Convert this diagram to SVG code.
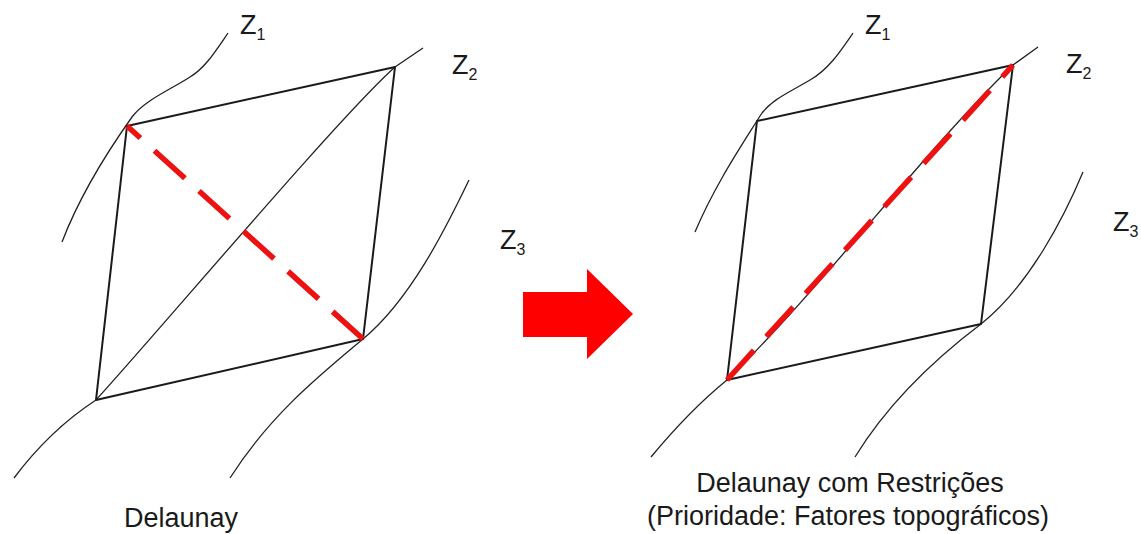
<svg xmlns="http://www.w3.org/2000/svg" width="1141" height="534" viewBox="0 0 1141 534">
<style>
.edge{fill:none;stroke:#1a1a1a;stroke-width:2;stroke-linejoin:round}
.cont{fill:none;stroke:#222;stroke-width:1.3}
.red{fill:none;stroke:#ee1111;stroke-width:5.5}
.lbl{font-family:"Liberation Sans",Arial,sans-serif;font-size:27px;fill:#1a1a1a}
.sub{font-size:16px}
.cap{font-family:"Liberation Sans",Arial,sans-serif;font-size:27px;fill:#1a1a1a;text-anchor:middle}
</style>
<rect width="1141" height="534" fill="#fff"/>
<g id="left-panel">
  <g id="left-contours">
    <path class="cont" d="M228,33 C215,52 205,68 190,77 C170,90 145,100 132,117 C110,148 80,195 62,242"/>
    <path class="cont" d="M423,48 L395,67 C338,118 160,330 96,400 Q50,430 14,478"/>
    <path class="cont" d="M469,180 C445,230 410,300 363,339 C320,375 270,415 230,478"/>
  </g>
  <g id="left-triangulation">
    <polygon class="edge" points="127,126 395,67 363,339 96,400"/>
    <path class="red" d="M127,126 L363,339" stroke-dasharray="18 19 41 19 41 19 41 19 41 19 41 19"/>
  </g>
  <g id="left-labels">
    <text class="lbl" x="240" y="34">Z<tspan class="sub" dy="6">1</tspan></text>
    <text class="lbl" x="452" y="74">Z<tspan class="sub" dy="6">2</tspan></text>
    <text class="lbl" x="500" y="249">Z<tspan class="sub" dy="6">3</tspan></text>
    <text class="cap" x="181" y="527">Delaunay</text>
  </g>
</g>
<g id="arrow">
  <polygon points="523,292 587,292 587,269 633,314 587,359 587,337 523,337" fill="#ff0000"/>
</g>
<g id="right-panel">
  <g id="right-contours">
    <path class="cont" d="M853,33 C840,52 828,70 810,80 C790,92 770,100 760,116 C740,148 715,185 695,232"/>
    <path class="cont" d="M1038,47 L1013,65 C925,150 820,290 727,380 Q690,410 651,457"/>
    <path class="cont" d="M1083,172 C1065,215 1030,285 981,324 C940,355 890,400 855,457"/>
  </g>
  <g id="right-triangulation">
    <polygon class="edge" points="757,121 1013,65 981,324 727,380"/>
    <path class="red" d="M727,380 L1013,65" stroke-dasharray="40 18.5"/>
  </g>
  <g id="right-labels">
    <text class="lbl" x="865" y="34">Z<tspan class="sub" dy="6">1</tspan></text>
    <text class="lbl" x="1066" y="73">Z<tspan class="sub" dy="6">2</tspan></text>
    <text class="lbl" x="1113" y="231">Z<tspan class="sub" dy="6">3</tspan></text>
    <text class="cap" x="850" y="492">Delaunay com Restrições</text>
    <text class="cap" x="848" y="525">(Prioridade: Fatores topográficos)</text>
  </g>
</g>
</svg>
